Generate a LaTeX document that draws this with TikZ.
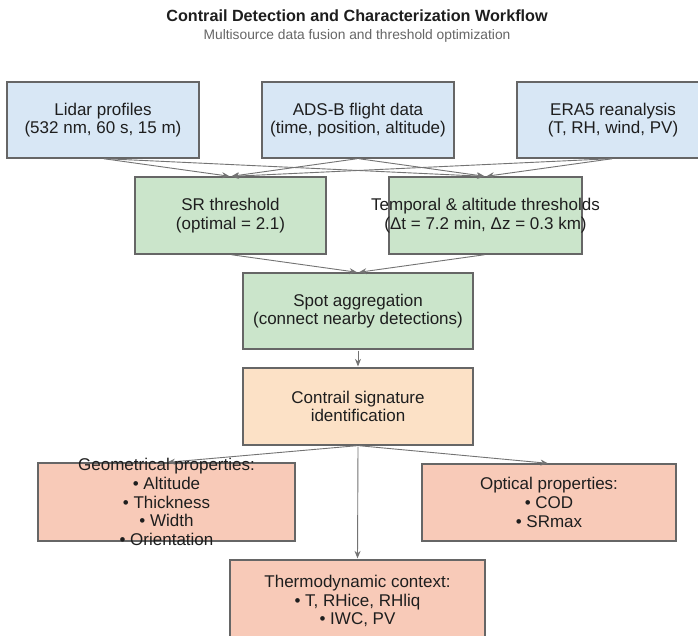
\documentclass[tikz,border=0pt]{standalone}
\usepackage{fontspec}
\setmainfont{Liberation Sans}
\usetikzlibrary{arrows.meta}
\definecolor{blueF}{HTML}{D8E7F5}
\definecolor{greenF}{HTML}{CBE5CB}
\definecolor{peachF}{HTML}{FCE1C6}
\definecolor{salmonF}{HTML}{F8CAB8}
\definecolor{edgeC}{HTML}{666666}
\definecolor{arrowC}{HTML}{737373}
\definecolor{textC}{HTML}{1E1E1E}
\definecolor{subC}{HTML}{666666}
\begin{document}
\begin{tikzpicture}[x=1pt,y=-1pt,
  box/.style={draw=edgeC, line width=1.2pt, inner sep=0pt, rectangle},
  txt/.style={font=\fontsize{17}{18.6}\selectfont, align=center, text=textC, inner sep=0pt},
  arr/.style={draw=arrowC, line width=0.9pt, -{Stealth[length=7.5pt,width=6pt]}, shorten >=1pt, shorten <=1pt}
]
\useasboundingbox (0,0) rectangle (698,635);
\fill[white] (0,0) rectangle (698,635);

% title
\node[font=\bfseries\fontsize{16.2}{19}\selectfont, text=textC] (title) at (357,16) {Contrail Detection and Characterization Workflow};
\node[font=\fontsize{13.8}{16}\selectfont, text=subC] (subtitle) at (357,36) {Multisource data fusion and threshold optimization};

% boxes
\node[box, fill=blueF, minimum width=192pt, minimum height=76pt] (lidar) at (103,120) {};
\node[box, fill=blueF, minimum width=192pt, minimum height=76pt] (adsb) at (358,120) {};
\node[box, fill=blueF, minimum width=192pt, minimum height=76pt] (era) at (613,120) {};
\node[box, fill=greenF, minimum width=191pt, minimum height=77pt] (sr) at (230.5,215.5) {};
\node[box, fill=greenF, minimum width=193pt, minimum height=77pt] (temp) at (485.5,215.5) {};
\node[box, fill=greenF, minimum width=230pt, minimum height=76pt] (spot) at (358,311) {};
\node[box, fill=peachF, minimum width=230pt, minimum height=77pt] (sig) at (358,406.5) {};
\node[box, fill=salmonF, minimum width=257pt, minimum height=78pt] (geo) at (166.5,502) {};
\node[box, fill=salmonF, minimum width=254pt, minimum height=77pt] (opt) at (549,502.5) {};
\node[box, fill=salmonF, minimum width=255pt, minimum height=82pt] (thermo) at (357.5,601) {};

% connectors
\foreach \s in {lidar,adsb,era}{
  \draw[arr] (\s.south) -- (sr.north);
  \draw[arr] (\s.south) -- (temp.north);
}
\draw[arr] (sr.south) -- (spot.north);
\draw[arr] (temp.south) -- (spot.north);
\draw[arr] (spot.south) -- (sig.north);
\draw[arr] (sig.south) -- (geo.north);
\draw[arr] (sig.south) -- (opt.north);
\draw[arr] (sig.south) -- (thermo.north);

% texts
\node[txt] (lidar-t) at (lidar.center) {Lidar profiles\\(532 nm, 60 s, 15 m)};
\node[txt] (adsb-t) at (adsb.center) {ADS-B flight data\\(time, position, altitude)};
\node[txt] (era-t) at (era.center) {ERA5 reanalysis\\(T, RH, wind, PV)};
\node[txt] (sr-t) at (sr.center) {SR threshold\\(optimal = 2.1)};
\node[txt] (temp-t) at (temp.center) {Temporal \& altitude thresholds\\(Δt = 7.2 min, Δz = 0.3 km)};
\node[txt] (spot-t) at (spot.center) {Spot aggregation\\(connect nearby detections)};
\node[txt] (sig-t) at (sig.center) {Contrail signature\\identification};
\node[txt] (geo-t) at (geo.center) {Geometrical properties:\\• Altitude\\• Thickness\\• Width\\• Orientation};
\node[txt] (opt-t) at (opt.center) {Optical properties:\\• COD\\• SRmax};
\node[txt] (thermo-t) at (thermo.center) {Thermodynamic context:\\• T, RHice, RHliq\\• IWC, PV};
\end{tikzpicture}
\end{document}
